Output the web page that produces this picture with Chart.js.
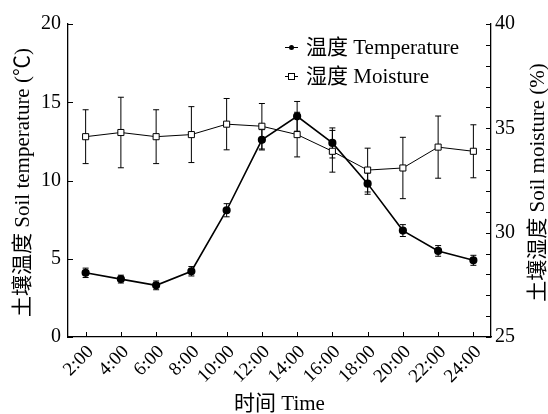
<!DOCTYPE html>
<html>
<head>
<meta charset="utf-8">
<script src="https://cdn.jsdelivr.net/npm/chart.js@4.4.1/dist/chart.umd.min.js"></script>
<style>
  html, body { margin: 0; padding: 0; background: #fff; }
</style>
</head>
<body>
<canvas id="chart" width="548" height="414"></canvas>
<script>
// data
const times = ['2:00', '4:00', '6:00', '8:00', '10:00', '12:00', '14:00', '16:00', '18:00', '20:00', '22:00', '24:00'];
const tempMean = [4.1, 3.7, 3.3, 4.2, 8.1, 12.6, 14.1, 12.4, 9.8, 6.8, 5.5, 4.9];
const tempErr = [0.3, 0.25, 0.28, 0.3, 0.42, 0.65, 0.95, 0.96, 0.68, 0.38, 0.34, 0.32];
const moistMean = [34.6, 34.8, 34.6, 34.7, 35.2, 35.1, 34.7, 33.9, 33.0, 33.1, 34.1, 33.9];
const moistErr = [1.29, 1.69, 1.29, 1.34, 1.23, 1.09, 1.07, 1.0, 1.05, 1.47, 1.49, 1.27];
const tempTitle = '土壤温度 Soil temperature (℃)';
const moistTitle = '土壤湿度 Soil moisture (%)';
const timeTitle = '时间 Time';

const FONT = '"Liberation Serif", "Times New Roman", "Noto Sans CJK SC", serif';
Chart.defaults.font.family = FONT;
Chart.defaults.color = '#000';

// vertical error bars, drawn under the markers
const errorBars = {
  id: 'errorBars',
  beforeDatasetsDraw(chart) {
    const ctx = chart.ctx;
    chart.data.datasets.forEach((ds, i) => {
      const meta = chart.getDatasetMeta(i);
      const ys = chart.scales[ds.yAxisID];
      ctx.save();
      ctx.strokeStyle = '#000';
      ctx.lineWidth = 1;
      meta.data.forEach((pt, j) => {
        const v = ds.data[j], e = ds.errors[j];
        const top = ys.getPixelForValue(v + e);
        const bot = ys.getPixelForValue(v - e);
        ctx.beginPath();
        ctx.moveTo(pt.x, top); ctx.lineTo(pt.x, bot);
        ctx.moveTo(pt.x - 3, top); ctx.lineTo(pt.x + 3, top);
        ctx.moveTo(pt.x - 3, bot); ctx.lineTo(pt.x + 3, bot);
        ctx.stroke();
      });
      ctx.restore();
    });
  }
};

// inward tick marks, axis titles and the legend
const decor = {
  id: 'decor',
  afterDraw(chart) {
    const { ctx, chartArea: a, scales } = chart;
    ctx.save();
    ctx.strokeStyle = '#000';
    ctx.lineWidth = 1;
    const line = (x1, y1, x2, y2) => { ctx.beginPath(); ctx.moveTo(x1, y1); ctx.lineTo(x2, y2); ctx.stroke(); };
    scales.x.ticks.forEach((t, i) => {
      const x = Math.round(scales.x.getPixelForTick(i)) + 0.5;
      line(x, a.bottom, x, a.bottom - 5);
    });
    scales.y.ticks.forEach(t => {
      const y = Math.round(scales.y.getPixelForValue(t.value)) + 0.5;
      line(a.left, y, a.left + 5, y);
    });
    scales.y1.ticks.forEach(t => {
      const y = Math.round(scales.y1.getPixelForValue(t.value)) + 0.5;
      line(a.right, y, a.right - 5, y);
    });

    // axis titles, y ones reading upward
    ctx.fillStyle = '#000';
    ctx.font = '21px ' + FONT;
    ctx.textBaseline = 'middle';
    ctx.textAlign = 'center';
    ctx.fillText(timeTitle, (a.left + a.right) / 2, 404);
    const midY = (a.top + a.bottom) / 2 + 2;
    [[23, tempTitle], [538, moistTitle]].forEach(([x, txt]) => {
      ctx.save();
      ctx.translate(x, midY);
      ctx.rotate(-Math.PI / 2);
      ctx.fillText(txt, 0, 0);
      ctx.restore();
    });

    // legend
    const lx = 285, rows = [47, 76];
    chart.data.datasets.forEach((ds, i) => {
      const y = rows[i] + 0.5;
      ctx.lineWidth = 1;
      line(lx, y, lx + 13, y);
      const cx = lx + 6.5;
      if (ds.pointStyle === 'circle') {
        ctx.beginPath();
        ctx.arc(cx, y, 2.5, 0, Math.PI * 2);
        ctx.fill();
      } else {
        ctx.fillStyle = '#fff';
        ctx.fillRect(cx - 3, y - 3, 6, 6);
        ctx.strokeRect(cx - 3, y - 3, 6, 6);
        ctx.fillStyle = '#000';
      }
      ctx.font = '21px ' + FONT;
      ctx.textAlign = 'left';
      ctx.fillText(ds.label, lx + 21, y + 1);
    });
    ctx.restore();
  }
};

new Chart(document.getElementById('chart'), {
  type: 'line',
  data: {
    labels: times,
    datasets: [
      {
        label: '温度 Temperature',
        data: tempMean,
        errors: tempErr,
        yAxisID: 'y',
        borderColor: '#000',
        borderWidth: 1.6,
        pointStyle: 'circle',
        pointRadius: 3.3,
        pointBackgroundColor: '#000',
        pointBorderColor: '#000',
        tension: 0
      },
      {
        label: '湿度 Moisture',
        data: moistMean,
        errors: moistErr,
        yAxisID: 'y1',
        borderColor: '#000',
        borderWidth: 1,
        pointStyle: 'rect',
        pointRadius: 4.3,
        pointBackgroundColor: '#fff',
        pointBorderColor: '#000',
        pointBorderWidth: 1,
        tension: 0
      }
    ]
  },
  options: {
    responsive: false,
    animation: false,
    devicePixelRatio: 1,
    layout: { padding: { top: 24, left: 0, right: 0, bottom: 0 } },
    plugins: { legend: { display: false }, tooltip: { enabled: false } },
    scales: {
      x: {
        offset: true,
        grid: { display: false, drawTicks: false },
        border: { color: '#000', width: 1.3 },
        ticks: { font: { size: 19 }, minRotation: 45, maxRotation: 45, padding: 4, labelOffset: 5, autoSkip: false },
        afterFit: s => { s.height = 77; }
      },
      y: {
        position: 'left',
        min: 0, max: 20,
        grid: { display: false, drawTicks: false },
        border: { color: '#000', width: 1.3 },
        ticks: { stepSize: 5, font: { size: 20 }, padding: 7 },
        afterFit: s => { s.width = 68; }
      },
      y1: {
        position: 'right',
        min: 25, max: 40,
        grid: { display: false, drawTicks: false },
        border: { color: '#000', width: 1.3 },
        ticks: {
          stepSize: 1, font: { size: 20 }, padding: 4, autoSkip: false,
          callback: v => (v % 5 === 0 ? v : '')
        },
        afterFit: s => { s.width = 57; }
      }
    }
  },
  plugins: [errorBars, decor]
});
</script>
</body>
</html>
